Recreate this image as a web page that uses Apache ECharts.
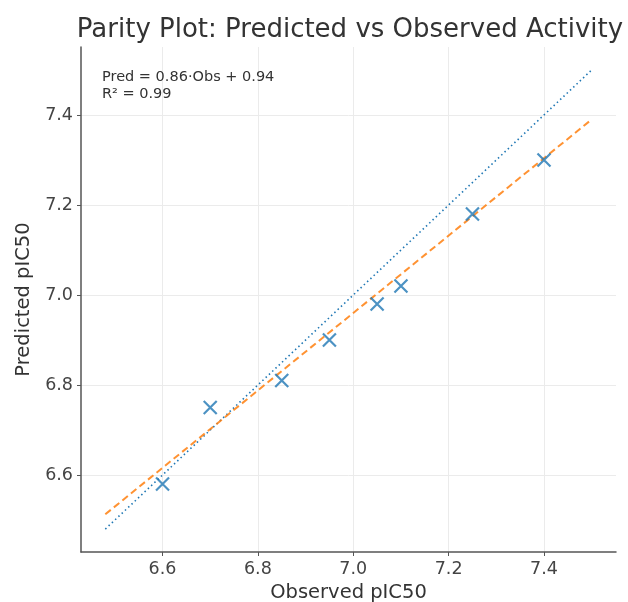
<!DOCTYPE html>
<html>
<head>
<meta charset="utf-8">
<script src="https://cdn.jsdelivr.net/npm/echarts@6/dist/echarts.min.js"></script>
<style>
  html, body { margin: 0; padding: 0; background: #fff; }
  #chart { width: 628px; height: 602px; }
</style>
</head>
<body>
<div id="chart"></div>
<script>
// observed vs predicted values
var observed = [6.6, 6.7, 6.85, 6.95, 7.05, 7.1, 7.25, 7.4];
var predicted = [6.58, 6.75, 6.81, 6.90, 6.98, 7.02, 7.18, 7.30];
var lineX = [6.48, 7.5];
var slope = 0.86, intercept = 0.94;
var tickValues = [6.6, 6.8, 7.0, 7.2, 7.4];
var axisMin = 6.429, axisMax = 7.551;

var chart = echarts.init(document.getElementById('chart'));

var fitLine = lineX.map(function (x) { return [x, slope * x + intercept]; });
var parityLine = lineX.map(function (x) { return [x, x]; });
var points = observed.map(function (x, i) { return [x, predicted[i]]; });

function axisCommon(name, gap) {
    return {
        type: 'value',
        min: axisMin,
        max: axisMax,
        name: name,
        nameLocation: 'middle',
        nameGap: gap,
        nameTextStyle: { color: '#333', fontSize: 19.5, fontFamily: 'DejaVu Sans' },
        axisLine: { show: true, lineStyle: { color: '#555', width: 1.5 } },
        axisTick: { show: true, customValues: tickValues, length: 4, lineStyle: { color: '#555' } },
        axisLabel: {
            customValues: tickValues,
            color: '#444',
            fontSize: 17.5,
            fontFamily: 'DejaVu Sans',
            formatter: function (v) { return v.toFixed(1); }
        },
        splitLine: { show: true, lineStyle: { color: '#ebebeb', width: 1 } }
    };
}

var option = {
    backgroundColor: '#fff',
    animation: false,
    title: {
        text: 'Parity Plot: Predicted vs Observed Activity',
        left: 345,
        textAlign: 'center',
        top: 12,
        textStyle: { color: '#333', fontSize: 26, fontWeight: 'normal', fontFamily: 'DejaVu Sans' }
    },
    grid: { left: 81, right: 12, top: 47, bottom: 50, outerBoundsMode: 'none', containLabel: false },
    xAxis: axisCommon('Observed pIC50', 29),
    yAxis: axisCommon('Predicted pIC50', 41),
    graphic: [{
        type: 'text',
        left: 102,
        top: 69,
        z: 10,
        style: {
            text: 'Pred = 0.86·Obs + 0.94\nR² = 0.99',
            fill: '#333',
            font: '14.5px "DejaVu Sans"',
            lineHeight: 17
        }
    }],
    series: [
        {
            type: 'line',
            data: parityLine,
            symbol: 'none',
            z: 2,
            lineStyle: { color: '#1f77b4', width: 1.6, type: [1.5, 3] }
        },
        {
            type: 'line',
            data: fitLine,
            symbol: 'none',
            z: 3,
            lineStyle: { color: '#ff7f0e', width: 2, type: [7, 4], opacity: 0.85 }
        },
        {
            type: 'scatter',
            data: points,
            z: 4,
            symbol: 'path://M0,0L10,10M10,0L0,10',
            symbolSize: 13,
            itemStyle: { color: 'none', borderColor: '#1f77b4', borderWidth: 2.2 }
        }
    ]
};

chart.setOption(option);
</script>
</body>
</html>
